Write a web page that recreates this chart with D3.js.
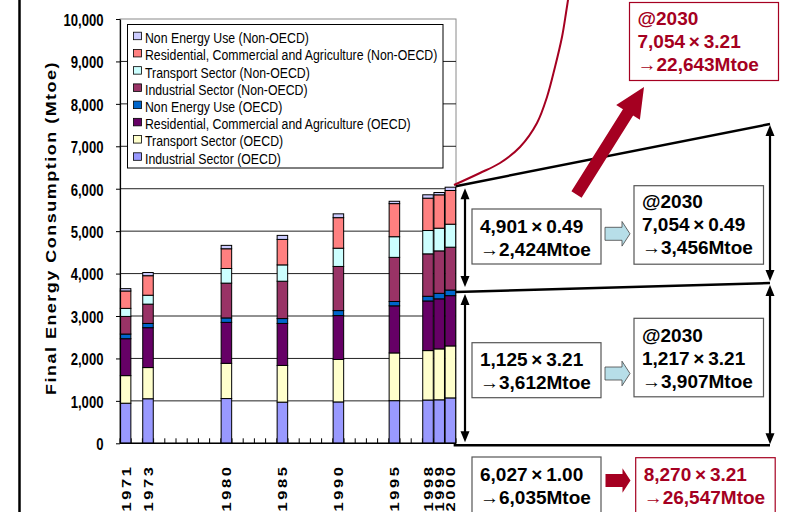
<!DOCTYPE html>
<html>
<head>
<meta charset="utf-8">
<script src="https://cdn.jsdelivr.net/npm/d3@7"></script>
<style>
  html, body { margin: 0; padding: 0; background: #fff; }
  svg { display: block; font-family: "Liberation Sans", Arial, sans-serif; }
</style>
</head>
<body>
<svg id="chart" width="787" height="512"></svg>
<script>
// ---- data -------------------------------------------------------------
const allYears  = d3.range(1971, 2001);          // category axis, one slot per year
const dataYears = [1971, 1973, 1980, 1985, 1990, 1995, 1998, 1999, 2000];

// Final energy consumption by sector (Mtoe), stacked bottom to top
const industrialOECD     = [945, 1050, 1055,  970,  975, 1005, 1020, 1025, 1070];
const transportOECD      = [650,  735,  830,  865, 1000, 1125, 1165, 1200, 1225];
const residentialOECD    = [870,  940,  965,  990, 1035, 1110, 1170, 1180, 1185];
const nonEnergyOECD      = [110,  100,  105,  115,  118,  102,  110,  130,  132];
const industrialNonOECD  = [415,  455,  820,  880, 1040, 1040, 1000, 1000, 1010];
const transportNonOECD   = [190,  210,  345,  385,  430,  487,  550,  535,  542];
const residentialNonOECD = [410,  460,  465,  600,  720,  780,  762,  786,  794];
const nonEnergyNonOECD   = [ 55,   75,   80,   95,   90,   55,   80,   55,   78];

const seriesNames = [
  "Industrial Sector (OECD)",
  "Transport Sector (OECD)",
  "Residential, Commercial and Agriculture (OECD)",
  "Non Energy Use (OECD)",
  "Industrial Sector (Non-OECD)",
  "Transport Sector (Non-OECD)",
  "Residential, Commercial and Agriculture (Non-OECD)",
  "Non Energy Use (Non-OECD)"
];
const seriesValues = [industrialOECD, transportOECD, residentialOECD, nonEnergyOECD,
                      industrialNonOECD, transportNonOECD, residentialNonOECD, nonEnergyNonOECD];
const seriesColors = ["#9999FF", "#FFFFCC", "#660066", "#0066CC",
                      "#993366", "#CCFFFF", "#FF8080", "#CCCCFF"];

const yTicks = [0, 1000, 2000, 3000, 4000, 5000, 6000, 7000, 8000, 9000, 10000];
const yTitle = "Final Energy Consumption (Mtoe)";

// per-capita projection notes
const noteNonOECD2000  = ["4,901\u2009×\u20090.49", "→2,424Mtoe"];
const noteNonOECD2030  = ["@2030", "7,054\u2009×\u20090.49", "→3,456Mtoe"];
const noteNonOECDRich  = ["@2030", "7,054\u2009×\u20093.21", "→22,643Mtoe"];
const noteOECD2000     = ["1,125\u2009×\u20093.21", "→3,612Mtoe"];
const noteOECD2030     = ["@2030", "1,217\u2009×\u20093.21", "→3,907Mtoe"];
const noteWorld2000    = ["6,027\u2009×\u20091.00", "→6,035Mtoe"];
const noteWorldRich    = ["8,270\u2009×\u20093.21", "→26,547Mtoe"];

// ---- setup ------------------------------------------------------------
const RED = "#A50021";
const SQUEEZE = 0.82;                 // horizontal condensing of chart lettering
const svg = d3.select("#chart");
const H = 512;
const plot = { left: 120, right: 456, top: 19, bottom: 443.3 };

const x = d3.scaleBand().domain(allYears).range([plot.left, plot.right])
  .paddingInner(0.06).paddingOuter(0.03);
const y = d3.scaleLinear().domain([0, 10000]).range([plot.bottom, plot.top]);

// page rule on the left
svg.append("line").attr("x1", 19.5).attr("x2", 19.5).attr("y1", 0).attr("y2", H)
  .attr("stroke", "#000").attr("stroke-width", 2.5);

// plot frame
svg.append("rect")
  .attr("x", plot.left).attr("y", y(10000))
  .attr("width", plot.right - plot.left).attr("height", y(0) - y(10000))
  .attr("fill", "none").attr("stroke", "#8a8a8a").attr("stroke-width", 1);

// gridlines
svg.append("g").selectAll("line")
  .data(yTicks.filter(d => d > 0 && d < 10000)).join("line")
  .attr("x1", plot.left).attr("x2", plot.right)
  .attr("y1", d => y(d)).attr("y2", d => y(d))
  .attr("stroke", "#222").attr("stroke-width", 1);

// category boundary ticks
const half = (x.step() - x.bandwidth()) / 2;
const bounds = allYears.map(yr => x(yr) - half).concat([x(2000) + x.bandwidth() + half]);
svg.append("g").selectAll("line").data(bounds).join("line")
  .attr("x1", d => d).attr("x2", d => d)
  .attr("y1", y(0)).attr("y2", y(0) - 5)
  .attr("stroke", "#000").attr("stroke-width", 1);

// stacked bars
const keys = seriesNames;
const rows = dataYears.map((yr, i) => {
  const o = { year: yr };
  keys.forEach((k, j) => { o[k] = seriesValues[j][i]; });
  return o;
});
const stacked = d3.stack().keys(keys)(rows);
svg.append("g").selectAll("g").data(stacked).join("g")
  .attr("fill", (d, i) => seriesColors[i])
  .selectAll("rect").data(d => d).join("rect")
  .attr("x", d => x(d.data.year))
  .attr("width", x.bandwidth())
  .attr("y", d => y(d[1]))
  .attr("height", d => y(d[0]) - y(d[1]))
  .attr("stroke", "#000").attr("stroke-width", 1);

// y axis
const yAxis = d3.axisLeft(y).tickValues(yTicks).tickFormat(d3.format(","))
  .tickSizeInner(4).tickSizeOuter(0).tickPadding(12);
svg.append("g").attr("transform", `translate(${plot.left},0)`).call(yAxis)
  .call(g => g.select(".domain").attr("stroke", "#000").attr("stroke-width", 1.2))
  .call(g => g.selectAll(".tick line").attr("stroke", "#000"))
  .call(g => g.selectAll("text")
    .attr("font-weight", "bold").attr("font-size", 16).attr("fill", "#000")
    .attr("x", -16.5 / SQUEEZE).attr("dy", "0.4em")
    .attr("transform", `scale(${SQUEEZE},1)`));

// x baseline
svg.append("line").attr("x1", plot.left).attr("x2", plot.right)
  .attr("y1", y(0)).attr("y2", y(0)).attr("stroke", "#000").attr("stroke-width", 1.5);

// year labels (rotated, reading upward)
const yearLS = 2.6;
svg.append("g").selectAll("text").data(dataYears).join("text")
  .attr("transform", d => `translate(${x(d) + x.bandwidth() / 2 + 5},${467 - yearLS}) scale(${SQUEEZE},1) rotate(-90)`)
  .attr("text-anchor", "end")
  .attr("font-weight", "bold").attr("font-size", 16.5)
  .attr("letter-spacing", yearLS)
  .text(d => d);

// y axis title
svg.append("text")
  .attr("transform", `translate(56,228) scale(${SQUEEZE},1) rotate(-90)`)
  .attr("text-anchor", "middle")
  .attr("font-weight", "bold").attr("font-size", 18)
  .attr("letter-spacing", 1.5)
  .text(yTitle);

// legend
const lg = svg.append("g");
lg.append("rect").attr("x", 127.5).attr("y", 24.5).attr("width", 315.5).attr("height", 143.5)
  .attr("fill", "#fff").attr("stroke", "#000").attr("stroke-width", 1);
const legendItems = seriesNames.map((n, i) => ({ name: n, color: seriesColors[i] })).reverse();
const li = lg.selectAll("g").data(legendItems).join("g")
  .attr("transform", (d, i) => `translate(0,${37.7 + i * 17.23})`);
li.append("rect").attr("x", 133.5).attr("y", -5.5).attr("width", 8).attr("height", 7.5)
  .attr("fill", d => d.color).attr("stroke", "#000").attr("stroke-width", 0.8);
li.append("text")
  .attr("transform", `translate(145,5.4) scale(${SQUEEZE},1)`)
  .attr("font-size", 15).attr("fill", "#000")
  .text(d => d.name);

// ---- projection annotations ---------------------------------------------
const oecd2000 = industrialOECD[8] + transportOECD[8] + residentialOECD[8] + nonEnergyOECD[8];
const total2000 = oecd2000 + industrialNonOECD[8] + transportNonOECD[8] + residentialNonOECD[8] + nonEnergyNonOECD[8];
const barRight = x(2000) + x.bandwidth();
const farX = 770;
const ann = svg.append("g");

// fanning lines to the 2030 side
ann.append("line").attr("x1", barRight).attr("y1", y(total2000) - 1).attr("x2", farX).attr("y2", 124)
  .attr("stroke", "#000").attr("stroke-width", 2.5);
ann.append("line").attr("x1", barRight).attr("y1", y(oecd2000) + 2).attr("x2", farX).attr("y2", 283)
  .attr("stroke", "#000").attr("stroke-width", 2.5);
ann.append("line").attr("x1", barRight - 2).attr("y1", y(0) + 2).attr("x2", farX).attr("y2", y(0) + 2)
  .attr("stroke", "#000").attr("stroke-width", 2.5);

// double-headed vertical arrows
function dblArrow(xp, y1, y2) {
  const g = ann.append("g");
  g.append("line").attr("x1", xp).attr("x2", xp).attr("y1", y1 + 8).attr("y2", y2 - 8)
    .attr("stroke", "#000").attr("stroke-width", 2.2);
  g.append("path").attr("d", `M${xp},${y1} L${xp - 4.5},${y1 + 11} L${xp + 4.5},${y1 + 11} Z`).attr("fill", "#000");
  g.append("path").attr("d", `M${xp},${y2} L${xp - 4.5},${y2 - 11} L${xp + 4.5},${y2 - 11} Z`).attr("fill", "#000");
}
dblArrow(465, y(total2000) + 1, y(oecd2000) - 3);
dblArrow(465, y(oecd2000) + 4, y(0) - 1);
dblArrow(farX, 125, 281);
dblArrow(farX, 285, y(0) + 1);

// steep red growth curve
const curvePts = [[454, 185], [480, 173], [500, 163], [520, 147], [537, 123], [547, 97],
                  [555, 67], [562, 37], [566, 13], [568, 0], [569, -6]];
ann.append("path").attr("d", d3.line().curve(d3.curveCatmullRom)(curvePts))
  .attr("fill", "none").attr("stroke", RED).attr("stroke-width", 2);

// big red arrow
(function () {
  const tail = [576.5, 194.5], tip = [644, 87];
  const dx = tip[0] - tail[0], dy = tip[1] - tail[1];
  const L = Math.hypot(dx, dy), ux = dx / L, uy = dy / L, nx = -uy, ny = ux;
  const sw = 6, hw = 14, hl = 30;
  const bx = tip[0] - ux * hl, by = tip[1] - uy * hl;
  const p = [
    [tail[0] + nx * sw, tail[1] + ny * sw],
    [bx + nx * sw, by + ny * sw],
    [bx + nx * hw, by + ny * hw],
    tip,
    [bx - nx * hw, by - ny * hw],
    [bx - nx * sw, by - ny * sw],
    [tail[0] - nx * sw, tail[1] - ny * sw]
  ];
  ann.append("path").attr("d", "M" + p.map(q => q.join(",")).join("L") + "Z").attr("fill", RED);
})();

// block arrows between boxes
function blockArrow(x0, yc, fill, stroke) {
  const bh = 6.5, hh = 12.3, x1 = x0 + 17, x2 = x0 + 25;
  ann.append("path")
    .attr("d", `M${x0},${yc - bh} L${x1},${yc - bh} L${x1},${yc - hh} L${x2},${yc} L${x1},${yc + hh} L${x1},${yc + bh} L${x0},${yc + bh} Z`)
    .attr("fill", fill).attr("stroke", stroke).attr("stroke-width", stroke === "none" ? 0 : 0.8);
}
blockArrow(605, 233.8, "#B7DEE8", "#444");
blockArrow(605, 373.5, "#B7DEE8", "#444");
blockArrow(605.5, 480.5, RED, "none");

// text boxes
function noteBox(bx, by, bw, bh, lines, first, red) {
  const col = red ? RED : "#000";
  ann.append("rect").attr("x", bx).attr("y", by).attr("width", bw).attr("height", bh)
    .attr("fill", "#fff").attr("stroke", red ? RED : "#555").attr("stroke-width", 1.2);
  ann.append("g").selectAll("text").data(lines).join("text")
    .attr("x", bx + 8).attr("y", (d, i) => by + first + i * 23)
    .attr("font-weight", "bold").attr("font-size", 19).attr("fill", col)
    .text(d => d);
}
noteBox(629.5, 2.5, 149, 78, noteNonOECDRich, 22.5, true);
noteBox(472, 209, 129, 55, noteNonOECD2000, 23.7, false);
noteBox(634, 185.7, 129.5, 78.5, noteNonOECD2030, 22.6, false);
noteBox(472, 342.7, 129, 55, noteOECD2000, 23, false);
noteBox(634, 318.3, 129.5, 78.5, noteOECD2030, 23.4, false);
noteBox(472, 457, 129, 70, noteWorld2000, 24, false);
noteBox(635.7, 457.7, 139.5, 70, noteWorldRich, 23.3, true);
</script>
</body>
</html>
